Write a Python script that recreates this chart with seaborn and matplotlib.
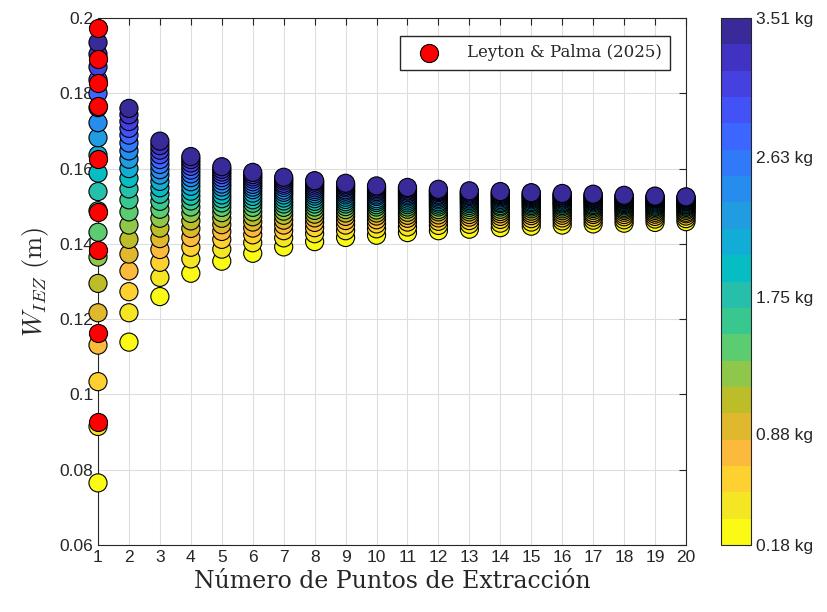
import pandas as pd
import matplotlib
matplotlib.use('Agg')
import matplotlib.pyplot as plt
from matplotlib.colors import ListedColormap, Normalize
from matplotlib.cm import ScalarMappable
import seaborn as sns

# eje x: número de puntos de extracción
n_puntos = list(range(1, 21))

# masas (kg), una por nivel de color
masas = [0.18, 0.355, 0.531, 0.706, 0.881, 1.056, 1.232, 1.407, 1.582, 1.757,
         1.933, 2.108, 2.283, 2.459, 2.634, 2.809, 2.984, 3.160, 3.335, 3.51]

# W_IEZ (m) por número de puntos, ordenado de menor a mayor masa
w_n01 = [0.0765, 0.0915, 0.1034, 0.1131, 0.1217, 0.1295, 0.1365, 0.1431, 0.1488, 0.1539,
         0.1588, 0.1636, 0.1682, 0.1722, 0.1762, 0.1800, 0.1836, 0.1870, 0.1904, 0.1935]
w_n02 = [0.1139, 0.1217, 0.1273, 0.1328, 0.1373, 0.1412, 0.1450, 0.1485, 0.1517, 0.1546,
         0.1574, 0.1600, 0.1625, 0.1647, 0.1668, 0.1689, 0.1707, 0.1725, 0.1743, 0.1760]
w_n03 = [0.1260, 0.1311, 0.1351, 0.1385, 0.1414, 0.1442, 0.1468, 0.1492, 0.1513, 0.1532,
         0.1549, 0.1566, 0.1583, 0.1597, 0.1611, 0.1624, 0.1637, 0.1649, 0.1661, 0.1673]
w_n04 = [0.1322, 0.1360, 0.1391, 0.1417, 0.1441, 0.1461, 0.1481, 0.1498, 0.1514, 0.1527,
         0.1540, 0.1553, 0.1565, 0.1576, 0.1586, 0.1596, 0.1606, 0.1615, 0.1624, 0.1632]
w_n05 = [0.1354, 0.1386, 0.1412, 0.1433, 0.1451, 0.1468, 0.1483, 0.1497, 0.1509, 0.1520,
         0.1530, 0.1541, 0.1551, 0.1559, 0.1568, 0.1576, 0.1584, 0.1591, 0.1598, 0.1605]
w_n06 = [0.1375, 0.1403, 0.1424, 0.1442, 0.1458, 0.1472, 0.1485, 0.1497, 0.1508, 0.1517,
         0.1526, 0.1535, 0.1544, 0.1551, 0.1558, 0.1565, 0.1572, 0.1578, 0.1584, 0.1590]
w_n07 = [0.1392, 0.1416, 0.1435, 0.1450, 0.1463, 0.1476, 0.1487, 0.1497, 0.1506, 0.1514,
         0.1522, 0.1530, 0.1537, 0.1543, 0.1550, 0.1556, 0.1561, 0.1567, 0.1572, 0.1577]
w_n08 = [0.1406, 0.1427, 0.1443, 0.1457, 0.1469, 0.1479, 0.1489, 0.1498, 0.1506, 0.1513,
         0.1520, 0.1527, 0.1533, 0.1539, 0.1544, 0.1549, 0.1554, 0.1559, 0.1564, 0.1568]
w_n09 = [0.1417, 0.1435, 0.1450, 0.1462, 0.1473, 0.1482, 0.1491, 0.1499, 0.1506, 0.1512,
         0.1518, 0.1524, 0.1530, 0.1535, 0.1540, 0.1544, 0.1549, 0.1553, 0.1557, 0.1561]
w_n10 = [0.1423, 0.1440, 0.1453, 0.1464, 0.1474, 0.1482, 0.1490, 0.1498, 0.1504, 0.1510,
         0.1515, 0.1520, 0.1526, 0.1530, 0.1535, 0.1539, 0.1543, 0.1547, 0.1551, 0.1554]
w_n11 = [0.1430, 0.1445, 0.1458, 0.1468, 0.1476, 0.1484, 0.1492, 0.1498, 0.1504, 0.1509,
         0.1514, 0.1519, 0.1524, 0.1528, 0.1532, 0.1536, 0.1540, 0.1543, 0.1547, 0.1550]
w_n12 = [0.1435, 0.1449, 0.1460, 0.1469, 0.1477, 0.1485, 0.1491, 0.1498, 0.1503, 0.1508,
         0.1512, 0.1517, 0.1521, 0.1525, 0.1529, 0.1532, 0.1536, 0.1539, 0.1542, 0.1545]
w_n13 = [0.1439, 0.1452, 0.1462, 0.1471, 0.1478, 0.1485, 0.1491, 0.1497, 0.1502, 0.1507,
         0.1511, 0.1515, 0.1519, 0.1522, 0.1526, 0.1529, 0.1532, 0.1535, 0.1538, 0.1541]
w_n14 = [0.1443, 0.1455, 0.1465, 0.1473, 0.1480, 0.1486, 0.1492, 0.1498, 0.1502, 0.1507,
         0.1510, 0.1514, 0.1518, 0.1522, 0.1525, 0.1528, 0.1531, 0.1534, 0.1537, 0.1539]
w_n15 = [0.1447, 0.1458, 0.1467, 0.1475, 0.1481, 0.1487, 0.1493, 0.1498, 0.1502, 0.1506,
         0.1510, 0.1513, 0.1517, 0.1520, 0.1523, 0.1526, 0.1528, 0.1531, 0.1534, 0.1536]
w_n16 = [0.1450, 0.1461, 0.1469, 0.1476, 0.1482, 0.1488, 0.1493, 0.1498, 0.1502, 0.1506,
         0.1509, 0.1512, 0.1516, 0.1519, 0.1522, 0.1524, 0.1527, 0.1529, 0.1532, 0.1534]
w_n17 = [0.1453, 0.1463, 0.1471, 0.1478, 0.1483, 0.1489, 0.1494, 0.1498, 0.1502, 0.1505,
         0.1509, 0.1512, 0.1515, 0.1518, 0.1520, 0.1523, 0.1525, 0.1528, 0.1530, 0.1532]
w_n18 = [0.1455, 0.1464, 0.1472, 0.1478, 0.1484, 0.1489, 0.1493, 0.1497, 0.1501, 0.1504,
         0.1507, 0.1510, 0.1513, 0.1516, 0.1518, 0.1520, 0.1523, 0.1525, 0.1527, 0.1529]
w_n19 = [0.1457, 0.1466, 0.1473, 0.1479, 0.1484, 0.1489, 0.1493, 0.1497, 0.1500, 0.1503,
         0.1506, 0.1509, 0.1512, 0.1514, 0.1517, 0.1519, 0.1521, 0.1523, 0.1525, 0.1527]
w_n20 = [0.1459, 0.1467, 0.1474, 0.1480, 0.1484, 0.1489, 0.1493, 0.1497, 0.1500, 0.1503,
         0.1505, 0.1508, 0.1511, 0.1513, 0.1515, 0.1517, 0.1519, 0.1521, 0.1523, 0.1525]

# datos de Leyton & Palma (2025), todos en n = 1
leyton_palma = [0.0927, 0.1164, 0.1384, 0.1485, 0.1625, 0.1766, 0.1828, 0.1890, 0.1973]

y_ticks = [0.06, 0.08, 0.1, 0.12, 0.14, 0.16, 0.18, 0.2]
cbar_ticks = [0.18, 0.88, 1.75, 2.63, 3.51]

# paleta tipo parula en 20 niveles (de amarillo a azul oscuro)
parula_20 = [(0.98, 0.98, 0.08), (0.96, 0.90, 0.14), (0.99, 0.82, 0.19), (0.99, 0.73, 0.24),
             (0.88, 0.72, 0.18), (0.74, 0.74, 0.16), (0.56, 0.78, 0.29), (0.36, 0.80, 0.44),
             (0.22, 0.78, 0.56), (0.15, 0.75, 0.67), (0.02, 0.74, 0.76), (0.07, 0.68, 0.84),
             (0.13, 0.61, 0.88), (0.15, 0.55, 0.93), (0.19, 0.48, 0.98), (0.23, 0.40, 1.00),
             (0.26, 0.32, 0.97), (0.27, 0.25, 0.88), (0.25, 0.20, 0.77), (0.22, 0.17, 0.60)]

sns.set_style('white')
plt.rcParams['font.family'] = ['Liberation Sans', 'DejaVu Sans']
plt.rcParams['mathtext.fontset'] = 'cm'

columnas = [w_n01, w_n02, w_n03, w_n04, w_n05, w_n06, w_n07, w_n08, w_n09, w_n10,
            w_n11, w_n12, w_n13, w_n14, w_n15, w_n16, w_n17, w_n18, w_n19, w_n20]
filas = []
for n, ws in zip(n_puntos, columnas):
    for m, w in zip(masas, ws):
        filas.append([n, m, w])
df = pd.DataFrame(filas, columns=['n', 'masa', 'w'])

fig = plt.figure(figsize=(8.27, 6.12), dpi=100)
ax = fig.add_axes([0.1185, 0.1095, 0.711, 0.861])

paleta = dict(zip(masas, parula_20))
sns.scatterplot(data=df, x='n', y='w', hue='masa', palette=paleta, s=170,
                edgecolor='black', linewidth=0.8, legend=False, ax=ax,
                clip_on=False, zorder=3)
sns.scatterplot(x=[1] * len(leyton_palma), y=leyton_palma, color='red', s=170,
                edgecolor='black', linewidth=0.8, label='Leyton & Palma (2025)',
                ax=ax, clip_on=False, zorder=4)

ax.set_xlim(1, 20)
ax.set_ylim(0.06, 0.2)
ax.set_xticks(n_puntos)
ax.set_yticks(y_ticks)
ax.set_yticklabels([f'{t:g}' for t in y_ticks])
ax.grid(True, color='0.87', linewidth=0.8)
ax.set_axisbelow(True)
ax.tick_params(direction='in', top=True, right=True, length=5, width=0.8,
               labelsize=12.5, colors='0.15')
for sp in ax.spines.values():
    sp.set_color('0.15')
    sp.set_linewidth(0.8)

ax.set_xlabel('Número de Puntos de Extracción', family='DejaVu Serif', fontsize=17,
              color='0.15')
ax.set_ylabel(r'$W_{IEZ}\ \mathrm{(m)}$', fontsize=19, color='0.15', labelpad=6)

ax.legend(loc='upper right', bbox_to_anchor=(0.973, 0.966), borderaxespad=0,
          prop={'family': 'DejaVu Serif', 'size': 12}, fancybox=False,
          edgecolor='0.15', framealpha=1, handlelength=2.4, handletextpad=1.1,
          borderpad=0.5)

# barra de color discreta
cax = fig.add_axes([0.872, 0.1095, 0.036, 0.861])
sm = ScalarMappable(norm=Normalize(0.18, 3.51), cmap=ListedColormap(parula_20))
cb = fig.colorbar(sm, cax=cax, ticks=cbar_ticks)
cb.ax.set_yticklabels([f'{t:.2f} kg' for t in cbar_ticks])
cb.ax.tick_params(direction='in', length=5, width=0.8, labelsize=12.5, colors='0.15')
cb.outline.set_edgecolor('0.15')
cb.outline.set_linewidth(0.8)

fig.savefig('out.png', dpi=100)
